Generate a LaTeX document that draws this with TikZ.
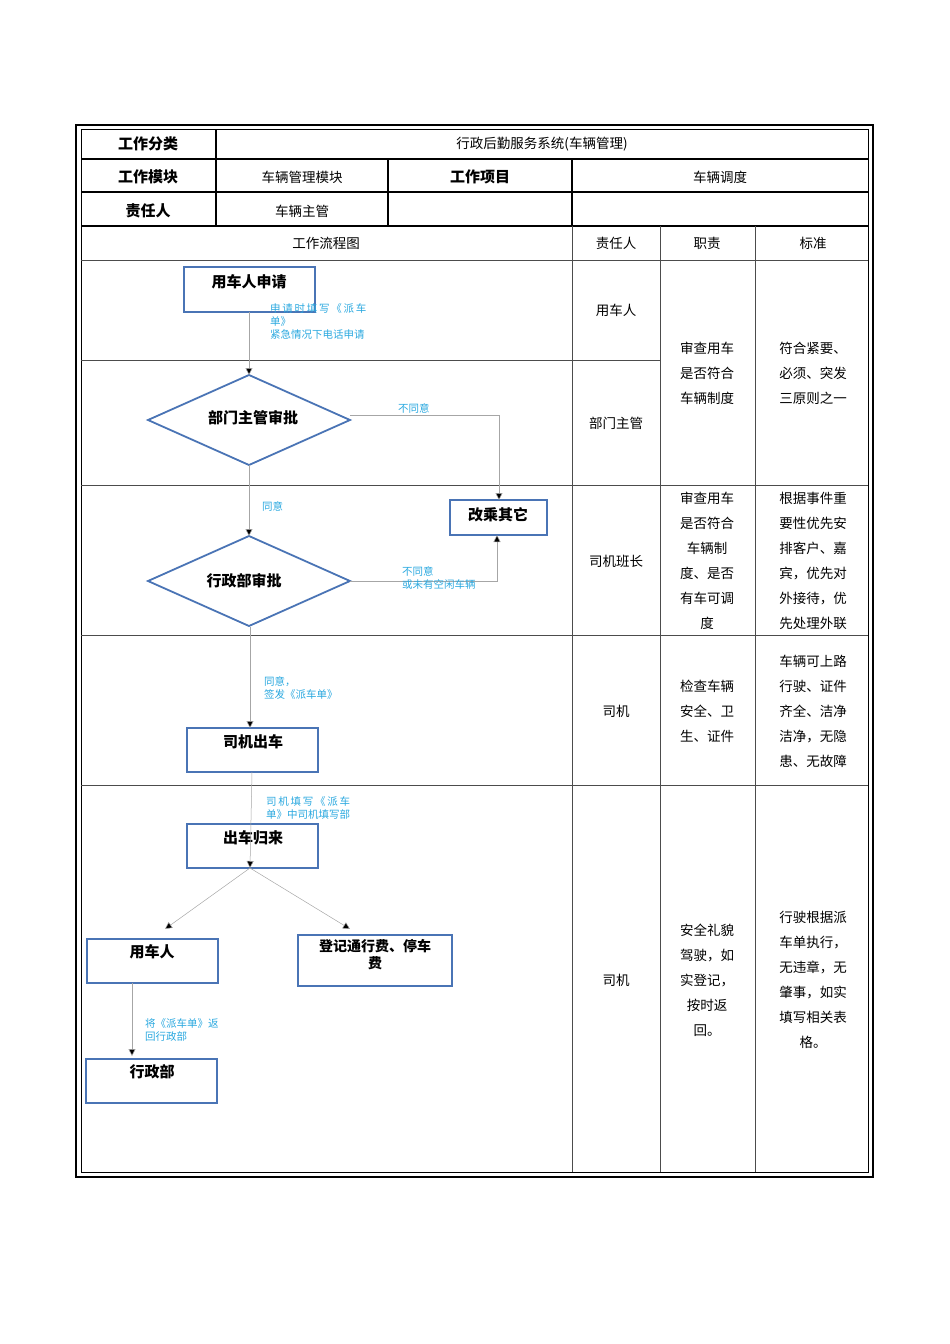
\documentclass[tikz,border=0pt]{standalone}
\usepackage{fontspec}
\setmainfont{Noto Sans CJK SC}
\newfontfamily\cjkb{Noto Sans CJK SC}[BoldFont=* Bold]
\usetikzlibrary{shapes.geometric,arrows.meta}
\definecolor{bbl}{HTML}{4A74B5}
\definecolor{lbl}{HTML}{2AA8DF}
\tikzset{
 fbox/.style={draw=bbl,line width=1.8pt,fill=none},
 dia/.style={draw=bbl,line width=1.8pt},
 conn/.style={draw=gray!70,line width=0.5pt,-{Triangle[length=7pt,width=7pt,fill=black]}},
 lab/.style={text=lbl,font=\fontsize{10.5}{13}\selectfont,anchor=west,align=left,inner sep=0pt},
 hb/.style={font=\fontsize{15}{17}\selectfont\bfseries},
 tx/.style={font=\fontsize{13.5}{25}\selectfont,align=center},
 nt/.style={font=\fontsize{15}{17}\selectfont\bfseries,inner sep=0pt},
 grid/.style={line width=0.6pt,draw=black!70},
 thick2/.style={line width=1.6pt}
}
\begin{document}
\begin{tikzpicture}[x=1pt,y=-1pt]
\useasboundingbox (0,0) rectangle (950,1344);
% outer borders
\draw[line width=2.5pt] (76,125) rectangle (873,1177);
\draw[line width=0.8pt] (81,129) rectangle (868,1172);
% top table
\draw[thick2] (81,159) -- (868,159);
\draw[thick2] (81,192) -- (868,192);
\draw[thick2] (81,226) -- (868,226);
\draw[thick2] (216,129) -- (216,226);
\draw[thick2] (388,159) -- (388,226);
\draw[thick2] (572,159) -- (572,226);
\draw[grid] (81,260) -- (868,260);
\draw[grid] (572,226) -- (572,1172);
\draw[grid] (660,226) -- (660,1172);
\draw[grid] (755,226) -- (755,1172);
\draw[grid] (81,360) -- (660,360);
\draw[grid] (81,485) -- (868,485);
\draw[grid] (81,635) -- (868,635);
\draw[grid] (81,785) -- (868,785);
% header texts
\node[hb] (t1) at (148,144) {工作分类};
\node[tx] (t2) at (542,144) {行政后勤服务系统(车辆管理)};
\node[hb] (t3) at (148,177) {工作模块};
\node[tx] (t4) at (302,177) {车辆管理模块};
\node[hb] (t5) at (480,177) {工作项目};
\node[tx] (t6) at (720,177) {车辆调度};
\node[hb] (t7) at (148,211) {责任人};
\node[tx] (t8) at (302,211) {车辆主管};
\node[tx] (h1) at (326,243) {工作流程图};
\node[tx] (h2) at (616,243) {责任人};
\node[tx] (h3) at (707,243) {职责};
\node[tx] (h4) at (813,243) {标准};
% right columns
\node[tx] (r1) at (616,310) {用车人};
\node[tx] (r2) at (616,423) {部门主管};
\node[tx] (d1) at (707,373) {审查用车\\是否符合\\车辆制度};
\node[tx] (s1) at (813,373) {符合紧要、\\必须、突发\\三原则之一};
\node[tx] (r3) at (616,561) {司机班长};
\node[tx] (d2) at (707,561) {审查用车\\是否符合\\车辆制\\度、是否\\有车可调\\度};
\node[tx] (s2) at (813,561) {根据事件重\\要性优先安\\排客户、嘉\\宾，优先对\\外接待，优\\先处理外联};
\node[tx] (r4) at (616,711) {司机};
\node[tx] (d3) at (707,711) {检查车辆\\安全、卫\\生、证件};
\node[tx] (s3) at (813,711) {车辆可上路\\行驶、证件\\齐全、洁净\\洁净，无隐\\患、无故障};
\node[tx] (r5) at (616,980) {司机};
\node[tx] (d4) at (707,980) {安全礼貌\\驾驶，如\\实登记，\\按时返\\回。};
\node[tx] (s4) at (813,980) {行驶根据派\\车单执行，\\无违章，无\\肇事，如实\\填写相关表\\格。};
% flow nodes
\draw[fbox] (184,267) rectangle (315,312);
\node[nt] (n1) at (249,282) {用车人申请};
\coordinate (n1b) at (249,312);
\draw[dia] (148,420) -- (249,375) -- (350,420) -- (249,465) -- cycle;
\node[nt] (n2) at (253,418) {部门主管审批};
\coordinate (n2t) at (249,375); \coordinate (n2r) at (350,415); \coordinate (n2b) at (249,465);
\draw[fbox] (450,500) rectangle (547,535);
\node[nt] (n3) at (498,515) {改乘其它};
\coordinate (n3t) at (499,500); \coordinate (n3b) at (497,535);
\draw[dia] (148,581) -- (249,536) -- (350,581) -- (249,626) -- cycle;
\node[nt] (n4) at (244,581) {行政部审批};
\coordinate (n4t) at (249,536); \coordinate (n4r) at (350,581); \coordinate (n4b) at (250,627);
\draw[fbox] (187,728) rectangle (318,772);
\node[nt] (n5) at (253,742) {司机出车};
\coordinate (n5t) at (250,728); \coordinate (n5b) at (252,772);
\draw[fbox] (187,824) rectangle (318,868);
\node[nt] (n6) at (253,838) {出车归来};
\coordinate (n6b) at (250,868);
\draw[fbox] (87,939) rectangle (218,983);
\node[nt] (n7) at (152,952) {用车人};
\coordinate (n7t) at (165,929); \coordinate (n7b) at (132,983);
\draw[fbox] (298,935) rectangle (452,986);
\node[nt,align=center,font=\fontsize{14}{17}\selectfont\bfseries] (n8) at (375,955) {登记通行费、停车\\费};
\coordinate (n8t) at (350,929);
\draw[fbox] (86,1059) rectangle (217,1103);
\node[nt] (n9) at (152,1072) {行政部};
\coordinate (n9t) at (132,1056);
% connectors
\draw[conn] (n1b) -- (n2t);
\draw[conn] (n2r) -- (499,415) -- (n3t);
\draw[conn] (n2b) -- (n4t);
\draw[conn] (n4r) -- (497,581) -- (n3b);
\draw[conn] (n4b) -- (n5t);
\draw[conn] (n5b) -- (n6b);
\draw[conn] (n6b) -- (n7t);
\draw[conn] (n6b) -- (n8t);
\draw[conn] (n7b) -- (n9t);
% labels
\node[lab] (l1) at (270,321) {申\,请\,时\,填\,写\,《\,派\,车\\单》\\紧急情况下电话申请};
\node[lab] (l2) at (398,408) {不同意};
\node[lab] (l3) at (262,506) {同意};
\node[lab] (l4) at (402,578) {不同意\\或未有空闲车辆};
\node[lab] (l5) at (264,688) {同意，\\签发《派车单》};
\node[lab] (l6) at (266,808) {司\,机\,填\,写\,《\,派\,车\\单》中司机填写部};
\node[lab] (l7) at (145,1030) {将《派车单》返\\回行政部};
\end{tikzpicture}
\end{document}
